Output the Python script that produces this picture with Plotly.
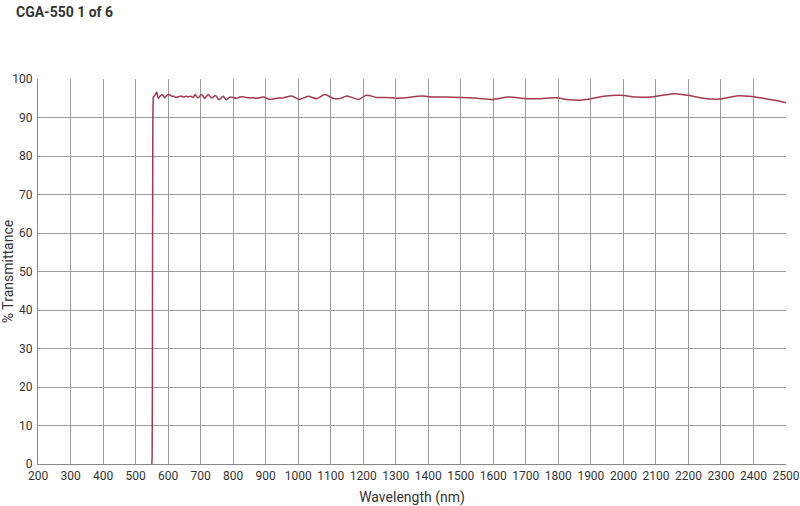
import plotly.graph_objects as go

# transmittance curve
wavelength = [550, 551, 552, 553, 554, 555, 560, 565, 570, 576, 583, 590, 597,
              603, 610, 618, 625, 632, 640, 648, 655, 662, 670, 677, 683, 688,
              693, 698, 703, 708, 713, 718, 724, 729, 734, 740, 746, 751, 756,
              762, 769, 774, 779, 785, 792, 800, 810, 820, 830, 840, 850, 860,
              872, 893, 913, 934, 954, 980, 1003, 1031, 1057, 1082, 1107, 1128,
              1150, 1185, 1210, 1241, 1270, 1302, 1330, 1380, 1400, 1450, 1500,
              1550, 1600, 1646, 1702, 1743, 1795, 1825, 1866, 1897, 1939, 1990,
              2041, 2092, 2158, 2204, 2245, 2296, 2347, 2388, 2428, 2470, 2500]
transmittance = [0, 2, 40, 85, 94, 95.4, 95.8, 96.6, 95.0, 95.6, 95.9, 95.1, 95.8,
                 96.0, 95.6, 95.5, 95.2, 95.4, 95.6, 95.3, 95.5, 95.4, 95.5, 95.2, 96.0, 95.4,
                 95.1, 95.6, 96.0, 95.5, 95.0, 95.5, 96.0, 95.5, 95.1, 95.4, 95.7, 95.2, 94.6,
                 95.0, 95.5, 95.1, 94.6, 95.0, 95.3, 95.2, 95.0, 95.3, 95.4, 95.2, 95.1, 95.1,
                 95.0, 95.3, 94.7, 95.0, 95.1, 95.6, 94.7, 95.5, 94.9, 96.0, 95.0, 94.9,
                 95.6, 94.7, 95.8, 95.2, 95.2, 95.0, 95.1, 95.6, 95.4, 95.3, 95.2,
                 95.0, 94.7, 95.3, 94.9, 94.9, 95.1, 94.7, 94.5, 94.8, 95.5, 95.8,
                 95.3, 95.4, 96.2, 95.7, 95.0, 94.8, 95.6, 95.5, 95.0, 94.4, 93.8]

x_ticks = list(range(200, 2501, 100))
y_ticks = list(range(0, 101, 10))

font_family = "Roboto, sans-serif"

fig = go.Figure()
fig.add_trace(go.Scatter(x=wavelength, y=transmittance, mode="lines",
                         line=dict(color="#a33a4d", width=1.5, shape="spline", smoothing=0.8),
                         hoverinfo="x+y", showlegend=False))

fig.update_layout(
    width=800, height=506,
    margin=dict(l=38, r=14, t=79, b=42),
    paper_bgcolor="white", plot_bgcolor="white",
    font=dict(family=font_family, size=12, color="#333333"),
    title=dict(text="<b>CGA-550 1 of 6</b>", x=0.02, xanchor="left",
               y=0.985, yanchor="top",
               font=dict(family=font_family, size=14, color="#333333")),
    xaxis=dict(range=[200, 2500], tickvals=x_ticks, showgrid=True,
               gridcolor="#9c9c9c", gridwidth=1, zeroline=False,
               showline=True, linecolor="#888888", linewidth=1,
               ticks="", ticklabelstandoff=1, automargin=False,
               tickfont=dict(size=12),
               title=dict(text="Wavelength (nm)", standoff=9)),
    yaxis=dict(range=[0, 100], tickvals=y_ticks, showgrid=True,
               gridcolor="#9c9c9c", gridwidth=1, zeroline=False,
               showline=True, linecolor="#888888", linewidth=1,
               ticks="", ticklabelstandoff=2, automargin=False,
               tickfont=dict(size=12),
               title=dict(text="% Transmittance", standoff=4)),
)

# drop the page's default body margin so the 800x506 figure fills the window
fig.write_html("out.html", config={"displayModeBar": False},
               post_script="document.body.style.margin='0';")
